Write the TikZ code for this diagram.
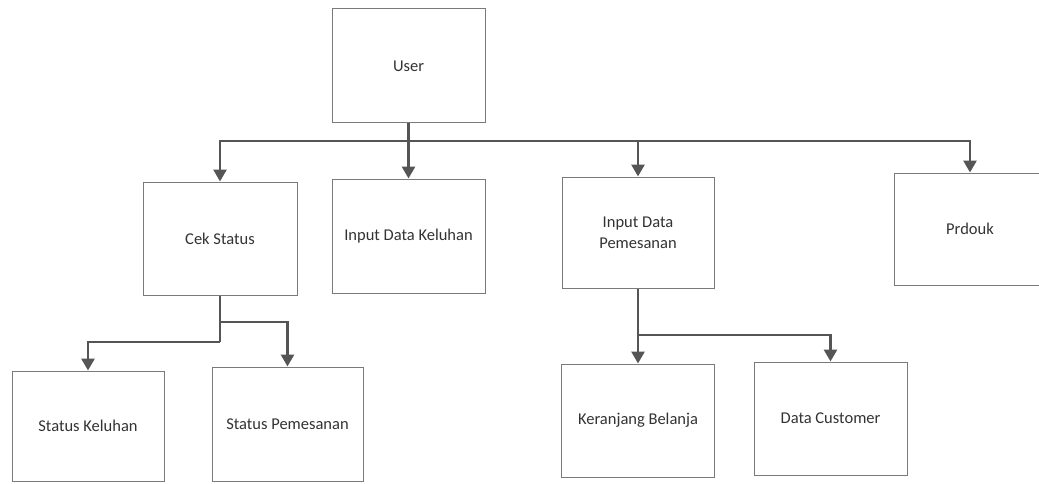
\documentclass[tikz,border=0pt]{standalone}
\usepackage{fontspec}
\setmainfont{Carlito}
\usetikzlibrary{arrows.meta}
\definecolor{linegray}{HTML}{555555}
\definecolor{boxgray}{HTML}{7A7A7A}
\definecolor{txtgray}{HTML}{333333}
\begin{document}
\begin{tikzpicture}[x=1pt,y=1pt,
  box/.style={draw=boxgray, line width=1pt, minimum width=#1, inner sep=0pt, align=center,
    text=txtgray, font=\fontsize{16.5}{21}\selectfont},
  box/.default=153pt,
  conn/.style={draw=linegray, line width=2.8pt, line join=miter},
  arr/.style={conn, -{Triangle[width=13pt,length=12pt]}}]
\path[use as bounding box] (0,0) rectangle (1039,483);
\clip (0,0) rectangle (1039,483);
\fill[white] (0,0) rectangle (1039,483);
% nodes
\node[box=153pt, minimum height=114pt] (user) at (408.5,417) {User};
\node[box=154pt, minimum height=113pt] (cek) at (220,244.5) {Cek Status};
\node[box=153pt, minimum height=114pt] (idk) at (408.5,247) {Input Data Keluhan};
\node[box=152pt, minimum height=111pt] (idp) at (638,250.5) {Input Data\\Pemesanan};
\node[box=152pt, minimum height=112pt] (prd) at (970,254) {Prdouk};
\node[box=152pt, minimum height=110pt] (sk) at (88,57) {Status Keluhan};
\node[box=151pt, minimum height=114pt] (sp) at (287.5,59) {Status Pemesanan};
\node[box=153pt, minimum height=113pt] (kb) at (638,62.5) {Keranjang Belanja};
\node[box=153pt, minimum height=113pt] (dc) at (830.5,64.5) {Data Customer};
% connectors from User
\coordinate (bus) at (user.south |- 0,342);
\draw[conn] (user.south) -- (bus);
\draw[conn] (cek.north |- bus) -- (prd.north |- bus);
\draw[arr] (bus) -| (cek.north);
\draw[arr] (bus) -- (idk.north);
\draw[arr] (bus) -| (idp.north);
\draw[arr] (bus) -| (prd.north);
% connectors from Cek Status
\coordinate (cj1) at (cek.south |- 0,161);
\coordinate (cj2) at (cek.south |- 0,141);
\draw[conn] (cek.south) -- (cj2);
\draw[arr] (cj1) -| (sp.north);
\draw[arr] (cj2) -| (sk.north);
% connectors from Input Data Pemesanan
\coordinate (pj) at (idp.south |- 0,148);
\draw[arr] (idp.south) -- (kb.north);
\draw[arr] (pj) -| (dc.north);
\end{tikzpicture}
\end{document}
